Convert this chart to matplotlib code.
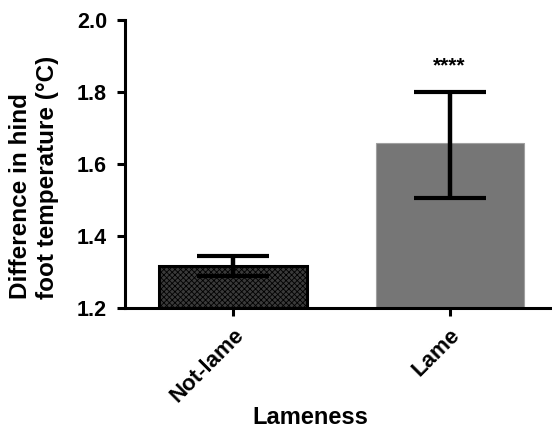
import matplotlib
matplotlib.use("Agg")
import matplotlib.pyplot as plt

categories = ["Not-lame", "Lame"]
means = [1.317, 1.658]
err_upper = [1.344, 1.800]
err_lower = [1.290, 1.505]
significance = ["", "****"]
yticks = [1.2, 1.4, 1.6, 1.8, 2.0]

plt.rcParams['font.family'] = ['Liberation Sans', 'DejaVu Sans']
plt.rcParams['font.weight'] = 'bold'
plt.rcParams['hatch.linewidth'] = 0.6

W, H = 552, 430
fig = plt.figure(figsize=(W / 100, H / 100), dpi=100)
ax = fig.add_axes([125 / W, 1 - 308 / H, 1 - 125 / W, (308 - 20) / H])

x = list(range(len(categories)))
bottom = 1.2
heights = [m - bottom for m in means]
bars = ax.bar(x, heights, bottom=bottom, width=0.684, zorder=2)
bars[0].set_facecolor('#3a3a3a')
bars[0].set_hatch('xxxxxx')
bars[0].set_edgecolor('black')
bars[0].set_linewidth(2.2)
bars[1].set_facecolor('#767676')
bars[1].set_edgecolor('#a0a0a0')
bars[1].set_linewidth(0.8)

yerr = [[m - l for m, l in zip(means, err_lower)], [u - m for m, u in zip(means, err_upper)]]
ax.errorbar(x, means, yerr=yerr, fmt='none', ecolor='black', elinewidth=3.2,
            capsize=26, capthick=3.0, zorder=3)

for xi, s in zip(x, significance):
    if s:
        ax.text(xi, 1.872, s, ha='center', va='center', fontsize=15, fontweight='bold')

ax.set_ylim(1.2, 2.0)
ax.set_xlim(-0.499, 1.473)
ax.set_yticks(yticks)
ax.set_yticklabels([f"{t:.1f}" for t in yticks], fontsize=15.5, fontweight='bold')
ax.set_xticks(x)
ax.set_xticklabels(categories, rotation=45, ha='right', rotation_mode='anchor',
                   fontsize=16, fontweight='bold')

for s in ['top', 'right']:
    ax.spines[s].set_visible(False)
for s in ['left', 'bottom']:
    ax.spines[s].set_linewidth(2.2)
ax.tick_params(axis='both', width=2.2, length=6, direction='out')
ax.tick_params(axis='y', pad=7)
ax.tick_params(axis='x', pad=6)

fig.text(310 / W, 1 - 417 / H, "Lameness", ha='center', va='center',
         fontsize=17, fontweight='bold')
fig.text(34 / W, 1 - 299 / H, "Difference in hind\nfoot temperature (°C)", rotation=90,
         ha='center', va='bottom', multialignment='left', linespacing=1.2,
         fontsize=17.5, fontweight='bold')

fig.savefig("out.png", dpi=100)
